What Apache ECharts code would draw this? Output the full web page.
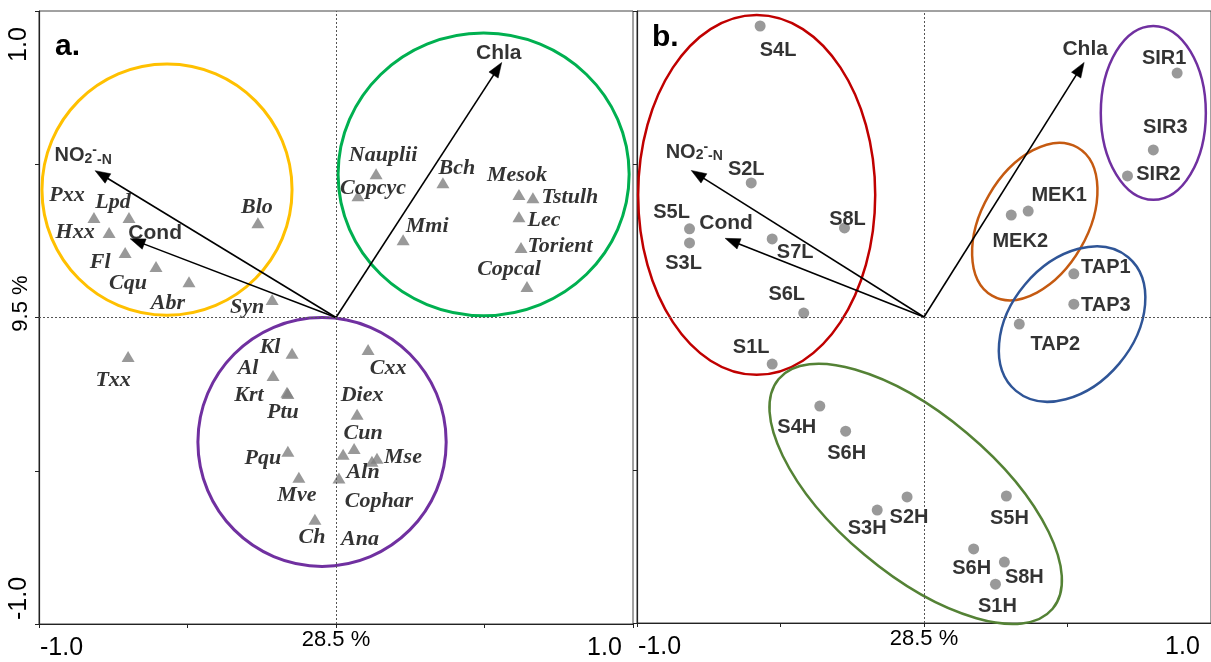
<!DOCTYPE html>
<html><head><meta charset="utf-8">
<script src="https://cdn.jsdelivr.net/npm/echarts@6/dist/echarts.min.js"></script>
<style>html,body{margin:0;padding:0;background:#fff}#c{width:1211px;height:662px}</style>
</head><body><div id="c"></div>
<script>
// ---- Environmental vectors (same in both panels) ----
const envNames = ['NO2-N', 'Cond', 'Chla'];
const envX = [-0.811, -0.693, 0.558];
const envY = [0.479, 0.257, 0.832];

// ---- Panel a: species scores ----
const spNames = ['Pxx','Lpd','Hxx','Fl','Cqu','Abr','Blo','Syn','Nauplii','Copcyc','Bch','Mmi','Mesok','Tstulh','Lec','Torient','Copcal','Txx','Kl','Al','Krt','Ptu','Pqu','Mve','Ch','Cxx','Diex','Cun','Aln','Mse','Cophar','Ana'];
const spX = [-0.815,-0.697,-0.764,-0.710,-0.606,-0.495,-0.263,-0.215,0.135,0.074,0.360,0.226,0.616,0.663,0.616,0.623,0.643,-0.700,-0.148,-0.212,-0.165,-0.162,-0.162,-0.125,-0.071,0.108,0.071,0.061,0.024,0.138,0.121,0.010];
const spY = [0.326,0.326,0.277,0.212,0.166,0.117,0.309,0.059,0.469,0.397,0.440,0.254,0.401,0.391,0.329,0.228,0.101,-0.127,-0.117,-0.189,-0.244,-0.248,-0.436,-0.521,-0.658,-0.104,-0.316,-0.427,-0.446,-0.459,-0.469,-0.524];

// ---- Panel b: sample scores ----
const smNames = ['S4L','S2L','S5L','S3L','S7L','S8L','S6L','S1L','S4H','S6H','S3H','S2H','S5H','S6H','S8H','S1H','TAP2','TAP1','TAP3','MEK1','MEK2','SIR1','SIR3','SIR2'];
const smX = [-0.571,-0.602,-0.817,-0.817,-0.529,-0.277,-0.419,-0.529,-0.363,-0.273,-0.163,-0.059,0.287,0.173,0.280,0.249,0.332,0.522,0.522,0.363,0.304,0.882,0.799,0.709];
const smY = [0.951,0.438,0.288,0.242,0.255,0.291,0.013,-0.154,-0.291,-0.373,-0.631,-0.588,-0.585,-0.758,-0.801,-0.873,-0.023,0.141,0.042,0.346,0.333,0.797,0.546,0.461];

// ---- Group ellipses (centre, semi-axes in axis units, tilt in degrees) ----
const ellACx = [-0.569, 0.497, -0.047];
const ellACy = [0.417, 0.467, -0.406];
const ellARx = [0.421, 0.490, 0.418];
const ellARy = [0.410, 0.461, 0.406];
const ellAAng = [0, 0, 0];
const ellBCx = [-0.583, 0.799, 0.386, 0.516, -0.029];
const ellBCy = [0.399, 0.667, 0.312, -0.023, -0.578];
const ellBRx = [0.413, 0.183, 0.298, 0.304, 0.623];
const ellBRy = [0.588, 0.284, 0.173, 0.201, 0.260];
const ellBAng = [0, 0, 60, 50, -40];

// ---- Tick labels ----
const tickValues = [-1, 0, 1];
const xTickText = ['-1.0', '28.5 %', '1.0'];
const yTickText = ['-1.0', '9.5 %', '1.0'];

// ---- Layout / style (not data) ----
const ellAColors = ['#FFC000', '#00B050', '#7030A0'];
const ellBColors = ['#C00000', '#7030A0', '#C55A11', '#2F5597', '#548235'];
const spLblDx = [-27,-16,-34,-25,-28,-21,-1,-25,7,15,14,24,-2,37,25,39,-18,-15,-22,-25,-38,-5,-25,-2,-3,20,5,9,20,26,7,21];
const spLblDy = [-22,-15,0,10,17,22,-15,8,-18,-8,-14,-13,-19,0,4,-1,-17,24,-6,-7,3,19,7,18,18,19,-19,-15,18,-1,40,61];
const smLblDx = [18,-5,-18,-6,23,3,-17,-21,-23,1,-10,2,3,-2,20,2,36,32,32,31,9,-13,12,31];
const smLblDy = [24,-13,-16,21,14,-8,-19,-17,21,22,18,21,22,20,15,22,20,-6,1,-16,26,-15,-22,-1];
const envLblA = [[-12,-15],[25,-6],[-3,-9]];
const envLblB = [[3,-18],[1,-15],[1,-13]];

const SANS = 'Liberation Sans';
const SERIF = 'Liberation Serif';

function tickFmt(texts) {
  const keys = ['lo', 'mid', 'hi'];
  return function (v) {
    const i = tickValues.indexOf(Math.round(v * 1000) / 1000);
    return i < 0 ? '' : '{' + keys[i] + '|' + texts[i] + '}';
  };
}

const xRich = {
  lo: { fontSize: 25, fontFamily: SANS, color: '#000', padding: [7, 0, 0, 45] },
  mid: { fontSize: 22, fontFamily: SANS, color: '#000' },
  hi: { fontSize: 25, fontFamily: SANS, color: '#000', padding: [7, 57, 0, 0] }
};
const yRich = {
  lo: { fontSize: 25, fontFamily: SANS, color: '#000', padding: [0, 0, 0, 51] },
  mid: { fontSize: 22, fontFamily: SANS, color: '#000', padding: [0, 0, 0, 28] },
  hi: { fontSize: 25, fontFamily: SANS, color: '#000', padding: [0, 67, 0, 0] }
};

function makeX(gi) {
  return {
    type: 'value', gridIndex: gi, min: -1, max: 1, interval: 0.5,
    splitLine: { show: false },
    axisLine: { onZero: false, lineStyle: { color: '#222', width: 1.2 } },
    axisTick: { show: true, length: 4, lineStyle: { color: '#222' } },
    axisLabel: { formatter: tickFmt(xTickText), rich: xRich, margin: 5, showMinLabel: true, showMaxLabel: true }
  };
}
function makeY(gi, showLabels) {
  return {
    type: 'value', gridIndex: gi, min: -1, max: 1, interval: 0.5,
    splitLine: { show: false },
    axisLine: { onZero: false, lineStyle: { color: '#222', width: 1.2 } },
    axisTick: { show: true, length: 4, lineStyle: { color: '#222' } },
    axisLabel: showLabels
      ? { rotate: 90, formatter: tickFmt(yTickText), rich: yRich, margin: 7, showMinLabel: true, showMaxLabel: true }
      : { show: false }
  };
}

function ellipseSeries(gi, cx, cy, rx, ry, ang, colors, lw) {
  return {
    type: 'custom', xAxisIndex: gi, yAxisIndex: gi, silent: true, z: 1,
    data: cx.map((v, i) => [v, cy[i], rx[i], ry[i], ang[i]]),
    encode: { x: 0, y: 1 },
    renderItem: function (params, api) {
      const c = api.coord([api.value(0), api.value(1)]);
      const sx = api.size([api.value(2), 0])[0];
      const sy = api.size([0, api.value(3)])[1];
      return {
        type: 'ellipse', x: c[0], y: c[1], rotation: api.value(4) * Math.PI / 180,
        shape: { cx: 0, cy: 0, rx: sx, ry: sy },
        style: { fill: 'none', stroke: colors[params.dataIndex], lineWidth: lw }
      };
    }
  };
}

// Arrows from the origin to each vector tip; arrowhead tip sits exactly on the data point
function arrowSeries(gi) {
  const HL = 15, HW = 5.5;
  return {
    type: 'custom', xAxisIndex: gi, yAxisIndex: gi, silent: true, z: 4,
    data: envX.map((x, i) => [x, envY[i]]),
    encode: { x: 0, y: 1 },
    renderItem: function (params, api) {
      const o = api.coord([0, 0]);
      const t = api.coord([api.value(0), api.value(1)]);
      const dx = t[0] - o[0], dy = t[1] - o[1];
      const L = Math.sqrt(dx * dx + dy * dy);
      const ux = dx / L, uy = dy / L;
      const bx = t[0] - ux * HL, by = t[1] - uy * HL;
      return {
        type: 'group',
        children: [
          { type: 'line', shape: { x1: o[0], y1: o[1], x2: bx + ux * 2, y2: by + uy * 2 },
            style: { stroke: '#000', lineWidth: 1.6 } },
          { type: 'polygon', shape: { points: [[t[0], t[1]], [bx - uy * HW, by + ux * HW], [bx + uy * HW, by - ux * HW]] },
            style: { fill: '#000', stroke: '#000', lineWidth: 0.5 } }
        ]
      };
    }
  };
}

const envRich = {
  a: { fontSize: 20, lineHeight: 20, fontWeight: 'bold', fontFamily: SANS, color: '#000' },
  s: { fontSize: 14, lineHeight: 14, fontWeight: 'bold', fontFamily: SANS, color: '#000', padding: [6, 0, 0, 0] },
  p: { fontSize: 14, lineHeight: 14, fontWeight: 'bold', fontFamily: SANS, color: '#000', padding: [0, 0, 11, 0] },
  b: { fontSize: 14, lineHeight: 14, fontWeight: 'bold', fontFamily: SANS, color: '#000', padding: [8, 0, 0, 0] },
  n: { fontSize: 21, lineHeight: 21, fontWeight: 'bold', fontFamily: SANS, color: '#000' }
};
function envLabelSeries(gi, offs) {
  return {
    type: 'scatter', xAxisIndex: gi, yAxisIndex: gi, silent: true, z: 5,
    symbolSize: 1, itemStyle: { color: 'rgba(0,0,0,0)' },
    data: envNames.map((n, i) => ({ name: n, value: [envX[i], envY[i]], label: { offset: offs[i] } })),
    label: {
      show: true, position: 'inside',
      formatter: function (p) { return p.name === 'NO2-N' ? '{a|NO}{s|2}{p|-}{b|-N}' : '{n|' + p.name + '}'; },
      rich: envRich
    }
  };
}

const centreLines = {
  silent: true, symbol: 'none', label: { show: false },
  lineStyle: { type: [2, 2], color: '#555', width: 1 },
  data: [{ xAxis: 0 }, { yAxis: 0 }]
};

const option = {
  animation: false,
  backgroundColor: '#fff',
  grid: [
    { left: 39, top: 11, width: 594, height: 613, show: true, borderColor: '#444', borderWidth: 1, backgroundColor: 'transparent' },
    { left: 637, top: 11, width: 578, height: 612, show: true, borderColor: '#444', borderWidth: 1, backgroundColor: 'transparent' }
  ],
  xAxis: [makeX(0), makeX(1)],
  yAxis: [makeY(0, true), makeY(1, false)],
  graphic: [
    { type: 'text', left: 55, top: 32, style: { text: 'a.', font: 'bold 30px "Liberation Sans"', fill: '#000' } },
    { type: 'text', left: 652, top: 23, style: { text: 'b.', font: 'bold 30px "Liberation Sans"', fill: '#000' } }
  ],
  series: [
    ellipseSeries(0, ellACx, ellACy, ellARx, ellARy, ellAAng, ellAColors, 3),
    ellipseSeries(1, ellBCx, ellBCy, ellBRx, ellBRy, ellBAng, ellBColors, 2.5),
    {
      type: 'scatter', xAxisIndex: 0, yAxisIndex: 0, z: 3,
      symbol: 'triangle', symbolSize: [13, 11],
      itemStyle: { color: '#808080' },
      data: spNames.map((n, i) => ({ name: n, value: [spX[i], spY[i]], label: { offset: [spLblDx[i], spLblDy[i]] } })),
      label: {
        show: true, position: 'inside', formatter: '{b}', color: '#000',
        fontFamily: SERIF, fontStyle: 'italic', fontWeight: 'bold', fontSize: 22
      },
      markLine: centreLines
    },
    {
      type: 'scatter', xAxisIndex: 1, yAxisIndex: 1, z: 3,
      symbol: 'circle', symbolSize: 11,
      itemStyle: { color: '#808080' },
      data: smNames.map((n, i) => ({ name: n, value: [smX[i], smY[i]], label: { offset: [smLblDx[i], smLblDy[i]] } })),
      label: {
        show: true, position: 'inside', formatter: '{b}', color: '#000',
        fontFamily: SANS, fontWeight: 'bold', fontSize: 20
      },
      markLine: centreLines
    },
    arrowSeries(0),
    arrowSeries(1),
    envLabelSeries(0, envLblA),
    envLabelSeries(1, envLblB)
  ]
};

const chart = echarts.init(document.getElementById('c'), null, { renderer: 'canvas' });
chart.setOption(option);
</script>
</body></html>
